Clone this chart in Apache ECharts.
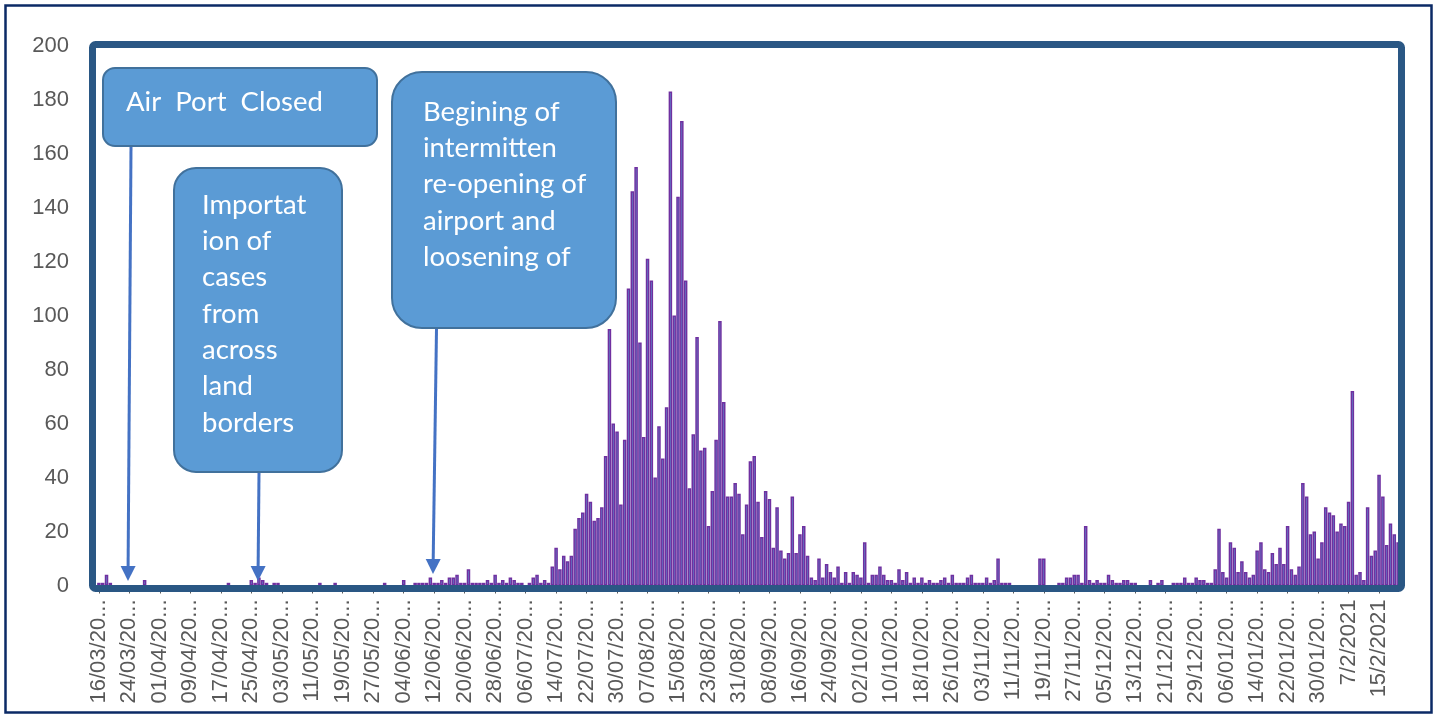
<!DOCTYPE html>
<html><head><meta charset="utf-8">
<script src="https://cdn.jsdelivr.net/npm/echarts@6/dist/echarts.min.js"></script>
<style>html,body{margin:0;padding:0;background:#fff}#c{width:1437px;height:719px}</style>
</head><body><div id="c"></div>
<script>
// Daily values, 16/03/2020 .. 20/02/2021
const mar2020 = [1,1,4,1,0,0,0,0,0,0,0,0,2,0,0,0];
const apr2020 = [0,0,0,0,0,0,0,0,0,0, 0,0,0,0,0,0,0,0,1,0, 0,0,0,0,2,1,3,2,1,0];
const may2020 = [1,1,0,0,0,0,0,0,0,0, 0,0,1,0,0,0,1,0,0,0, 0,0,0,0,0,0,0,0,0,1, 0];
const jun2020 = [0,0,0,2,0,0,1,1,1,1, 3,1,1,2,1,3,3,4,1,1, 6,1,1,1,1,2,1,4,1,2];
const jul2020 = [1,3,2,1,1,0,1,3,4,1, 2,1,7,14,6,11,9,11,21,25, 27,34,31,24,25,29,48,95,60,57, 30];
const aug2020 = [54,110,146,155,90,55,121,113,40,59, 47,66,183,100,144,172,113,36,56,92, 50,51,22,35,54,98,68,33,33,38, 34];
const sep2020 = [19,30,46,48,31,18,35,32,14,29, 13,10,12,33,12,19,22,11,3,2, 10,3,8,5,3,7,1,5,1,5];
const oct2020 = [4,3,16,1,4,4,7,4,2,2, 1,6,2,5,1,3,1,3,1,2, 1,1,2,3,1,4,1,1,1,3, 4];
const nov2020 = [1,1,1,3,1,2,10,1,1,1, 0,0,0,0,0,0,0,10,10,0, 0,0,1,1,3,3,4,4,1,22];
const dec2020 = [2,1,2,1,1,4,2,1,1,2, 2,1,1,0,0,0,2,0,1,2, 0,0,1,1,1,3,1,1,3,2, 2];
const jan2021 = [1,1,6,21,5,3,16,14,5,9, 5,3,4,13,16,6,5,12,8,14, 8,22,6,4,7,38,33,19,20,10, 16];
const feb2021 = [29,27,26,20,23,22,31,72,4,5, 2,29,11,13,41,33,15,23,19,16];

const values = [].concat(mar2020, apr2020, may2020, jun2020, jul2020, aug2020,
  sep2020, oct2020, nov2020, dec2020, jan2021, feb2021);

// Category labels: one per day, as in the source sheet
const categories = [];
for (let i = 0; i < values.length; i++) {
  const dt = new Date(Date.UTC(2020, 2, 16 + i));
  const d = dt.getUTCDate(), m = dt.getUTCMonth() + 1, y = dt.getUTCFullYear();
  const p = n => String(n).padStart(2, '0');
  categories.push((y === 2021 && m === 2) ? (d + '/' + m + '/' + y) : (p(d) + '/' + p(m) + '/' + y));
}

const annotations = [
  { lines: ['Air  Port  Closed'] },
  { lines: ['Importat', 'ion of', 'cases', 'from', 'across', 'land', 'borders'] },
  { lines: ['Begining of', 'intermitten', 're-opening of', 'airport and', 'loosening of'] }
];

const boxLayout = [
  { x: 103, y: 68, w: 274, h: 78, r: 12, tx: 126, ty: 102 },
  { x: 174, y: 168, w: 168, h: 304, r: 22, tx: 202, ty: 205 },
  { x: 392, y: 72, w: 224, h: 256, r: 30, tx: 423, ty: 112 }
];
const arrowLayout = [
  { from: [131, 147], to: [128, 581] },
  { from: [259, 473], to: [258, 581] },
  { from: [436.5, 329], to: [433, 574] }
];

const graphics = [];
graphics.push({ type: 'rect', z: 20, silent: true,
  shape: { x: 5.5, y: 5.5, width: 1426, height: 707 },
  style: { fill: 'none', stroke: '#0B2A66', lineWidth: 2.5 } });
graphics.push({ type: 'rect', z: 15, silent: true,
  shape: { x: 92.5, y: 44.5, width: 1309, height: 544, r: 3 },
  style: { fill: 'none', stroke: '#2A5784', lineWidth: 7 } });

boxLayout.forEach((b, i) => {
  graphics.push({ type: 'rect', z: 16, silent: true,
    shape: { x: b.x, y: b.y, width: b.w, height: b.h, r: b.r },
    style: { fill: '#5B9BD5', stroke: '#41719C', lineWidth: 2 } });
  annotations[i].lines.forEach((t, k) => {
    graphics.push({ type: 'text', z: 17, silent: true,
      style: { x: b.tx, y: b.ty + k * 36.3, text: t, fill: '#FFFFFF',
        font: '27.5px Lato', textVerticalAlign: 'middle', textAlign: 'left' } });
  });
});

arrowLayout.forEach(a => {
  const dx = a.to[0] - a.from[0], dy = a.to[1] - a.from[1];
  const len = Math.sqrt(dx * dx + dy * dy);
  const ux = dx / len, uy = dy / len;
  const hl = 15, hw = 7.5;
  const bx = a.to[0] - ux * hl, by = a.to[1] - uy * hl;
  graphics.push({ type: 'polyline', z: 16, silent: true,
    shape: { points: [a.from, [bx, by]] },
    style: { stroke: '#4472C4', lineWidth: 3 } });
  graphics.push({ type: 'polygon', z: 16, silent: true,
    shape: { points: [a.to, [bx - uy * hw, by + ux * hw], [bx + uy * hw, by - ux * hw]] },
    style: { fill: '#4472C4' } });
});

const chart = echarts.init(document.getElementById('c'), null, { renderer: 'canvas' });
chart.setOption({
  animation: false,
  backgroundColor: '#FFFFFF',
  grid: { left: 97, right: 37, top: 45.5, bottom: 133.5, containLabel: false },
  xAxis: {
    type: 'category', data: categories, boundaryGap: true,
    axisLine: { show: true, lineStyle: { color: '#D9D9D9', width: 1 } },
    axisTick: { show: true, interval: 7, alignWithLabel: true, length: 8, lineStyle: { color: '#595959' } },
    axisLabel: { interval: 7, rotate: 90, margin: 14, color: '#595959', fontSize: 22,
      fontFamily: 'Liberation Sans', width: 107, overflow: 'truncate', ellipsis: '...' }
  },
  yAxis: {
    type: 'value', min: 0, max: 200, interval: 20,
    axisLine: { show: false }, axisTick: { show: false }, splitLine: { show: false },
    axisLabel: { color: '#595959', fontSize: 22, margin: 28, fontFamily: 'Liberation Sans' }
  },
  series: [{
    type: 'bar',
    data: values.map(v => v === 0 ? { value: 0, itemStyle: { borderWidth: 0 } } : v),
    barCategoryGap: '8%',
    itemStyle: { color: '#5B9BD5', borderColor: '#7030A0', borderWidth: 1.5 }
  }],
  graphic: graphics
});
</script>
</body></html>
